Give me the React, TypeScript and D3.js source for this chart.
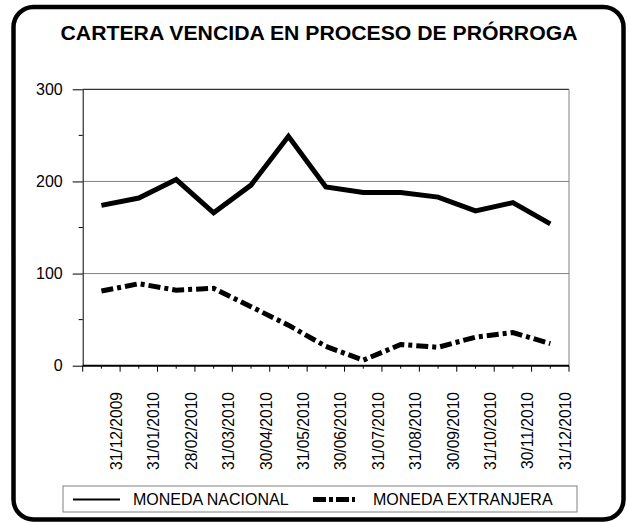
import React, { useEffect, useRef } from 'react';
import * as d3 from 'd3';

const fechas = [
  '31/12/2009', '31/01/2010', '28/02/2010', '31/03/2010', '30/04/2010',
  '31/05/2010', '30/06/2010', '31/07/2010', '31/08/2010', '30/09/2010',
  '31/10/2010', '30/11/2010', '31/12/2010',
];
const monedaNacional = [174, 182, 202, 166, 196, 249, 194, 188, 188, 183, 168, 177, 154];
const monedaExtranjera = [81, 89, 82, 84, 64, 44, 21, 6, 23, 20, 31, 36, 24];
const yTicks = [0, 100, 200, 300];
const yMinor = [50, 150, 250];

const WIDTH = 629;
const HEIGHT = 523;
const FONT = '"Liberation Sans", Arial, sans-serif';

const App = () => {
  const ref = useRef<SVGSVGElement | null>(null);

  useEffect(() => {
    const svg = d3.select(ref.current);
    svg.selectAll('*').remove();

    const left = 82.7, right = 569, top = 89.3, bottom = 365.7;

    const x = d3.scaleBand().domain(fechas).range([left, right]).paddingInner(0).paddingOuter(0);
    const bw = x.bandwidth();
    const y = d3.scaleLinear().domain([0, 300]).range([bottom, top]);

    // outer frame
    svg.append('rect')
      .attr('x', 13.5).attr('y', 7)
      .attr('width', 623.5 - 13.5).attr('height', 519.5 - 7)
      .attr('rx', 20).attr('ry', 20)
      .attr('fill', 'white').attr('stroke', 'black').attr('stroke-width', 4.5);

    svg.append('text')
      .attr('x', 319).attr('y', 39.5)
      .attr('text-anchor', 'middle')
      .attr('font-family', FONT).attr('font-weight', 'bold').attr('font-size', 20)
      .attr('textLength', 517).attr('lengthAdjust', 'spacingAndGlyphs')
      .text('CARTERA VENCIDA EN PROCESO DE PRÓRROGA');

    // grid
    svg.append('g')
      .selectAll('line')
      .data([100, 200])
      .join('line')
        .attr('x1', left).attr('x2', right)
        .attr('y1', d => y(d)).attr('y2', d => y(d))
        .attr('stroke', '#808080').attr('stroke-width', 1);
    svg.append('line')
      .attr('x1', left).attr('x2', right).attr('y1', y(300)).attr('y2', y(300))
      .attr('stroke', 'black');
    svg.append('line')
      .attr('x1', right).attr('x2', right).attr('y1', top).attr('y2', bottom)
      .attr('stroke', '#808080');

    // y axis
    const yAxis = svg.append('g')
      .attr('transform', `translate(${left},0)`)
      .call(d3.axisLeft(y).tickValues(yTicks).tickSize(10).tickPadding(10).tickSizeOuter(0));
    yAxis.select('.domain').attr('stroke', 'black');
    yAxis.selectAll('text').attr('font-family', FONT).attr('font-size', 16).attr('fill', 'black');
    svg.append('g')
      .selectAll('line')
      .data(yMinor)
      .join('line')
        .attr('x1', left - 4).attr('x2', left)
        .attr('y1', d => y(d)).attr('y2', d => y(d))
        .attr('stroke', 'black');

    // x axis
    svg.append('line')
      .attr('x1', left).attr('x2', right).attr('y1', bottom).attr('y2', bottom)
      .attr('stroke', 'black').attr('stroke-width', 2);
    const bounds = [...fechas.map(d => x(d) as number), right];
    svg.append('g')
      .selectAll('line')
      .data(bounds)
      .join('line')
        .attr('x1', d => d).attr('x2', d => d)
        .attr('y1', bottom).attr('y2', bottom + 6)
        .attr('stroke', 'black');
    svg.append('g')
      .selectAll('line')
      .data(fechas)
      .join('line')
        .attr('x1', d => (x(d) as number) + bw / 2).attr('x2', d => (x(d) as number) + bw / 2)
        .attr('y1', bottom).attr('y2', bottom + 3)
        .attr('stroke', 'black');
    svg.append('g')
      .selectAll('text')
      .data(fechas)
      .join('text')
        .attr('transform', d => `translate(${(x(d) as number) + bw - 3.7},392) rotate(-90)`)
        .attr('text-anchor', 'end')
        .attr('dy', '0.35em')
        .attr('font-family', FONT).attr('font-size', 15.6)
        .text(d => d);

    // series
    const line = d3.line<number>()
      .x((_, i) => (x(fechas[i]) as number) + bw / 2)
      .y(d => y(d));

    svg.append('path')
      .datum(monedaNacional)
      .attr('d', line)
      .attr('fill', 'none').attr('stroke', 'black').attr('stroke-width', 5)
      .attr('stroke-linejoin', 'miter');
    svg.append('path')
      .datum(monedaExtranjera)
      .attr('d', line)
      .attr('fill', 'none').attr('stroke', 'black').attr('stroke-width', 5)
      .attr('stroke-dasharray', '12,4,4,4');

    // legend
    const lg = svg.append('g');
    lg.append('rect')
      .attr('x', 63).attr('y', 486).attr('width', 577 - 63).attr('height', 26)
      .attr('fill', 'white').attr('stroke', '#808080');
    lg.append('line')
      .attr('x1', 73).attr('x2', 120).attr('y1', 499.5).attr('y2', 499.5)
      .attr('stroke', 'black').attr('stroke-width', 2);
    lg.append('text')
      .attr('x', 133).attr('y', 505)
      .attr('font-family', FONT).attr('font-size', 16)
      .text('MONEDA NACIONAL');
    lg.append('line')
      .attr('x1', 313).attr('x2', 355).attr('y1', 499.5).attr('y2', 499.5)
      .attr('stroke', 'black').attr('stroke-width', 5)
      .attr('stroke-dasharray', '13,3,4,3');
    lg.append('text')
      .attr('x', 373).attr('y', 505)
      .attr('font-family', FONT).attr('font-size', 16)
      .text('MONEDA EXTRANJERA');
  }, []);

  return (
    <svg
      ref={ref}
      width={WIDTH}
      height={HEIGHT}
      style={{ position: 'absolute', left: 0, top: 0, background: 'white' }}
    />
  );
};

export default App;
